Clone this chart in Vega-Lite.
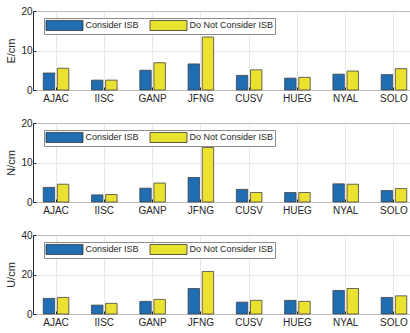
{
  "$schema": "https://vega.github.io/schema/vega-lite/v6.json",
  "padding": {"left": 5, "top": 5, "right": 0, "bottom": 0},
  "spacing": 33,
  "bounds": "flush",
  "config": {
    "font": "Liberation Sans",
    "view": {"stroke": "#262626", "strokeWidth": 1},
    "axis": {
      "labelFont": "Liberation Sans", "labelFontSize": 10, "labelColor": "#262626",
      "titleFont": "Liberation Sans", "titleFontSize": 11, "titleFontWeight": "normal", "titleColor": "#262626",
      "domain": false, "tickColor": "#262626", "tickSize": -3, "labelPadding": 4,
      "gridColor": "#e3e3e3", "gridWidth": 0.8
    },
    "axisX": {"labelPadding": 6},
    "legend": {
      "orient": "none", "legendX": 11, "legendY": 7, "direction": "horizontal",
      "title": null, "symbolType": "M-1,-1L6.4,-1L6.4,1L-1,1Z", "symbolSize": 100,
      "symbolStrokeColor": "#333333", "symbolStrokeWidth": 0.8, "symbolOpacity": 1,
      "labelFont": "Liberation Sans", "labelFontSize": 9, "labelColor": "#262626", "labelOffset": 29,
      "columnPadding": 8, "padding": 1.5, "strokeColor": "#8c8c8c", "fillColor": "white"
    }
  },
  "datasets": {
    "d": [
      {"c": "E", "s": "AJAC", "g": "Consider ISB", "v": 4.3}, {"c": "E", "s": "AJAC", "g": "Do Not Consider ISB", "v": 5.5},
      {"c": "E", "s": "IISC", "g": "Consider ISB", "v": 2.5}, {"c": "E", "s": "IISC", "g": "Do Not Consider ISB", "v": 2.5},
      {"c": "E", "s": "GANP", "g": "Consider ISB", "v": 5.0}, {"c": "E", "s": "GANP", "g": "Do Not Consider ISB", "v": 6.9},
      {"c": "E", "s": "JFNG", "g": "Consider ISB", "v": 6.6}, {"c": "E", "s": "JFNG", "g": "Do Not Consider ISB", "v": 13.4},
      {"c": "E", "s": "CUSV", "g": "Consider ISB", "v": 3.7}, {"c": "E", "s": "CUSV", "g": "Do Not Consider ISB", "v": 5.1},
      {"c": "E", "s": "HUEG", "g": "Consider ISB", "v": 3.0}, {"c": "E", "s": "HUEG", "g": "Do Not Consider ISB", "v": 3.2},
      {"c": "E", "s": "NYAL", "g": "Consider ISB", "v": 4.0}, {"c": "E", "s": "NYAL", "g": "Do Not Consider ISB", "v": 4.8},
      {"c": "E", "s": "SOLO", "g": "Consider ISB", "v": 3.9}, {"c": "E", "s": "SOLO", "g": "Do Not Consider ISB", "v": 5.4},
      {"c": "N", "s": "AJAC", "g": "Consider ISB", "v": 3.7}, {"c": "N", "s": "AJAC", "g": "Do Not Consider ISB", "v": 4.5},
      {"c": "N", "s": "IISC", "g": "Consider ISB", "v": 1.8}, {"c": "N", "s": "IISC", "g": "Do Not Consider ISB", "v": 1.9},
      {"c": "N", "s": "GANP", "g": "Consider ISB", "v": 3.5}, {"c": "N", "s": "GANP", "g": "Do Not Consider ISB", "v": 4.8},
      {"c": "N", "s": "JFNG", "g": "Consider ISB", "v": 6.2}, {"c": "N", "s": "JFNG", "g": "Do Not Consider ISB", "v": 13.8},
      {"c": "N", "s": "CUSV", "g": "Consider ISB", "v": 3.2}, {"c": "N", "s": "CUSV", "g": "Do Not Consider ISB", "v": 2.4},
      {"c": "N", "s": "HUEG", "g": "Consider ISB", "v": 2.4}, {"c": "N", "s": "HUEG", "g": "Do Not Consider ISB", "v": 2.4},
      {"c": "N", "s": "NYAL", "g": "Consider ISB", "v": 4.6}, {"c": "N", "s": "NYAL", "g": "Do Not Consider ISB", "v": 4.5},
      {"c": "N", "s": "SOLO", "g": "Consider ISB", "v": 2.9}, {"c": "N", "s": "SOLO", "g": "Do Not Consider ISB", "v": 3.4},
      {"c": "U", "s": "AJAC", "g": "Consider ISB", "v": 7.9}, {"c": "U", "s": "AJAC", "g": "Do Not Consider ISB", "v": 8.4},
      {"c": "U", "s": "IISC", "g": "Consider ISB", "v": 4.5}, {"c": "U", "s": "IISC", "g": "Do Not Consider ISB", "v": 5.4},
      {"c": "U", "s": "GANP", "g": "Consider ISB", "v": 6.4}, {"c": "U", "s": "GANP", "g": "Do Not Consider ISB", "v": 7.4},
      {"c": "U", "s": "JFNG", "g": "Consider ISB", "v": 12.9}, {"c": "U", "s": "JFNG", "g": "Do Not Consider ISB", "v": 21.5},
      {"c": "U", "s": "CUSV", "g": "Consider ISB", "v": 6.0}, {"c": "U", "s": "CUSV", "g": "Do Not Consider ISB", "v": 6.9},
      {"c": "U", "s": "HUEG", "g": "Consider ISB", "v": 6.9}, {"c": "U", "s": "HUEG", "g": "Do Not Consider ISB", "v": 6.4},
      {"c": "U", "s": "NYAL", "g": "Consider ISB", "v": 11.9}, {"c": "U", "s": "NYAL", "g": "Do Not Consider ISB", "v": 12.9},
      {"c": "U", "s": "SOLO", "g": "Consider ISB", "v": 8.4}, {"c": "U", "s": "SOLO", "g": "Do Not Consider ISB", "v": 9.2}
    ]
  },
  "vconcat": [
    {
      "width": 384, "height": 79,
      "data": {"name": "d"},
      "transform": [{"filter": "datum.c == 'E'"}],
      "mark": {"type": "bar", "stroke": "#444444", "strokeWidth": 0.8},
      "encoding": {
        "x": {"field": "s", "type": "nominal", "sort": ["AJAC", "IISC", "GANP", "JFNG", "CUSV", "HUEG", "NYAL", "SOLO"], "scale": {"paddingInner": 0.47, "paddingOuter": 0.212}, "axis": {"title": null, "labelAngle": 0, "grid": true, "bandPosition": 0.5}},
        "xOffset": {"field": "g", "sort": ["Consider ISB", "Do Not Consider ISB"], "scale": {"paddingInner": 0.19}},
        "y": {"field": "v", "type": "quantitative", "scale": {"domain": [0, 20]}, "axis": {"title": "E/cm", "values": [0, 10, 20], "grid": true}},
        "color": {"field": "g", "type": "nominal", "scale": {"domain": ["Consider ISB", "Do Not Consider ISB"], "range": ["#1f6db3", "#ebe22f"]}}
      }
    },
    {
      "width": 384, "height": 79,
      "data": {"name": "d"},
      "transform": [{"filter": "datum.c == 'N'"}],
      "mark": {"type": "bar", "stroke": "#444444", "strokeWidth": 0.8},
      "encoding": {
        "x": {"field": "s", "type": "nominal", "sort": ["AJAC", "IISC", "GANP", "JFNG", "CUSV", "HUEG", "NYAL", "SOLO"], "scale": {"paddingInner": 0.47, "paddingOuter": 0.212}, "axis": {"title": null, "labelAngle": 0, "grid": true, "bandPosition": 0.5}},
        "xOffset": {"field": "g", "sort": ["Consider ISB", "Do Not Consider ISB"], "scale": {"paddingInner": 0.19}},
        "y": {"field": "v", "type": "quantitative", "scale": {"domain": [0, 20]}, "axis": {"title": "N/cm", "values": [0, 10, 20], "grid": true}},
        "color": {"field": "g", "type": "nominal", "scale": {"domain": ["Consider ISB", "Do Not Consider ISB"], "range": ["#1f6db3", "#ebe22f"]}}
      }
    },
    {
      "width": 384, "height": 79,
      "data": {"name": "d"},
      "transform": [{"filter": "datum.c == 'U'"}],
      "mark": {"type": "bar", "stroke": "#444444", "strokeWidth": 0.8},
      "encoding": {
        "x": {"field": "s", "type": "nominal", "sort": ["AJAC", "IISC", "GANP", "JFNG", "CUSV", "HUEG", "NYAL", "SOLO"], "scale": {"paddingInner": 0.47, "paddingOuter": 0.212}, "axis": {"title": null, "labelAngle": 0, "grid": true, "bandPosition": 0.5}},
        "xOffset": {"field": "g", "sort": ["Consider ISB", "Do Not Consider ISB"], "scale": {"paddingInner": 0.19}},
        "y": {"field": "v", "type": "quantitative", "scale": {"domain": [0, 40]}, "axis": {"title": "U/cm", "values": [0, 20, 40], "grid": true}},
        "color": {"field": "g", "type": "nominal", "scale": {"domain": ["Consider ISB", "Do Not Consider ISB"], "range": ["#1f6db3", "#ebe22f"]}}
      }
    }
  ],
  "resolve": {"legend": {"color": "independent"}, "scale": {"color": "independent"}}
}
